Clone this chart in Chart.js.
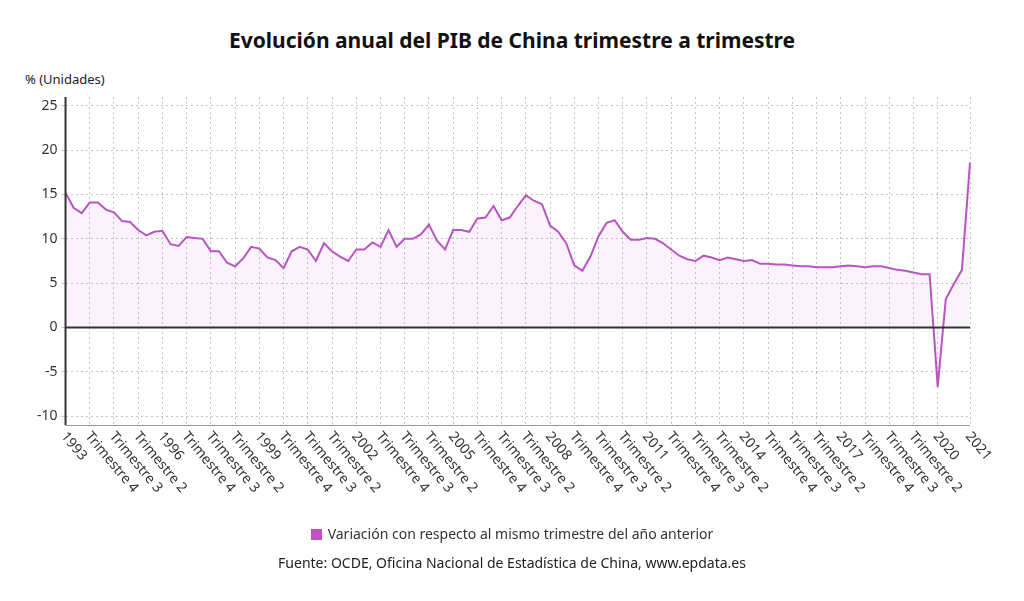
<!DOCTYPE html>
<html><head><meta charset="utf-8">
<script src="https://cdn.jsdelivr.net/npm/chart.js@4"></script>
<style>
body{margin:0;background:#fff;font-family:"Noto Sans",sans-serif;}
#wrap{position:relative;width:1024px;height:601px;}
#title{position:absolute;top:26px;left:0;width:1024px;text-align:center;font-weight:bold;font-size:21px;color:#111;}
#unit{position:absolute;top:70px;left:25px;font-size:13px;color:#222;}
#legend{position:absolute;top:524px;left:0;width:1024px;text-align:center;font-size:14px;color:#333;}
#legend span{display:inline-block;width:11px;height:11px;background:#c04fc8;margin-right:6px;vertical-align:-1px;}
#src{position:absolute;top:553px;left:0;width:1024px;text-align:center;font-size:14px;color:#222;}
canvas{position:absolute;left:0;top:0;}
</style></head><body>
<div id="wrap">
<div id="title">Evolución anual del PIB de China trimestre a trimestre</div>
<div id="unit">% (Unidades)</div>
<canvas id="c" width="1024" height="601"></canvas>
<div id="legend"><span></span>Variación con respecto al mismo trimestre del año anterior</div>
<div id="src">Fuente: OCDE, Oficina Nacional de Estadística de China, www.epdata.es</div>
</div>
<script>
const startYear = 1993;
const values = [15.2,13.5,12.9,14.1,14.1,13.3,13.0,12.0,11.9,11.0,10.4,10.8,10.9,9.4,9.2,10.2,10.1,10.0,8.6,8.6,
7.3,6.9,7.8,9.1,8.9,7.9,7.6,6.7,8.6,9.1,8.8,7.5,9.5,8.6,8.0,7.5,8.8,8.8,9.6,9.1,
11.0,9.1,10.0,10.0,10.5,11.6,9.8,8.8,11.0,11.0,10.8,12.3,12.4,13.7,12.1,12.4,13.7,14.9,14.3,13.9,
11.5,10.8,9.5,7.0,6.4,8.0,10.3,11.8,12.1,10.8,9.9,9.9,10.1,10.0,9.5,8.8,8.1,7.7,7.5,8.1,
7.9,7.6,7.9,7.7,7.5,7.6,7.2,7.2,7.1,7.1,7.0,6.9,6.9,6.8,6.8,6.8,6.9,7.0,6.9,6.8,
6.9,6.9,6.7,6.5,6.4,6.2,6.0,6.0,-6.7,3.2,4.9,6.5,18.6];
const labels = values.map((v,i)=>{const q=i%4; return q===0?String(startYear+i/4):'Trimestre '+(q+1);});
const yTicks = [-10,-5,0,5,10,15,20,25];
const N = values.length;
const shown = i => (i%3===0 && i<N-2) || i===N-1;
const deco = {id:'deco',
 afterDatasetsDraw(ch){
  const ctx=ch.ctx, x=ch.scales.x, y=ch.scales.y;
  ctx.save();
  ctx.strokeStyle='#333'; ctx.lineWidth=2;
  const z=y.getPixelForValue(0);
  ctx.beginPath(); ctx.moveTo(x.left,z); ctx.lineTo(x.right,z); ctx.stroke();
  ctx.beginPath(); ctx.moveTo(x.left,y.top); ctx.lineTo(x.left,y.bottom); ctx.stroke();
  ctx.lineWidth=1;
  ctx.beginPath(); ctx.moveTo(x.left,y.bottom+0.5); ctx.lineTo(x.right,y.bottom+0.5); ctx.strokeStyle='#999'; ctx.stroke();
  ctx.fillStyle='#333'; ctx.font='14px "Noto Sans"'; ctx.textAlign='left'; ctx.textBaseline='middle';
  labels.forEach((l,i)=>{ if(!shown(i)) return;
   const px=x.getPixelForValue(i);
   ctx.save(); ctx.translate(px-2,y.bottom+9); ctx.rotate(50*Math.PI/180); ctx.fillText(l,0,0); ctx.restore();});
  ctx.restore();
 }};
new Chart(document.getElementById('c'),{
type:'line',
data:{labels,datasets:[{data:values,borderColor:'#b955c2',borderWidth:2,pointRadius:0,tension:0,
 fill:'origin',backgroundColor:'rgba(200,90,210,0.07)'}]},
options:{responsive:false,animation:false,
 layout:{padding:{left:33,right:54,top:97,bottom:176}},
 plugins:{legend:{display:false},tooltip:{enabled:false}},
 scales:{
  x:{offset:false,grid:{color:c=>shown(c.index)?'#c4c4c4':'rgba(0,0,0,0)',drawTicks:false},border:{display:false,dash:[2,3]},
   ticks:{display:false,autoSkip:false}},
  y:{min:-11,max:26,afterBuildTicks:a=>{a.ticks=yTicks.map(v=>({value:v}));},
   grid:{color:'#c4c4c4',tickLength:4},
   border:{display:false,dash:[2,3]},
   ticks:{color:'#333',font:{family:'Noto Sans',size:14},padding:4}}
 }},plugins:[deco]});
</script></body></html>
